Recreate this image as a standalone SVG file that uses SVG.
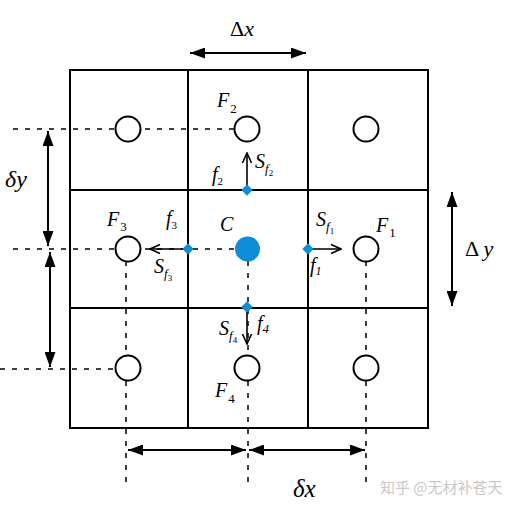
<svg xmlns="http://www.w3.org/2000/svg" width="518" height="511" viewBox="0 0 518 511" font-family="'Liberation Serif', 'Times New Roman', serif">
<style>
.grid{fill:none;stroke:#000;stroke-width:2}
.cell{fill:#fff;stroke:#000;stroke-width:2}
.dash{fill:none;stroke:#000;stroke-width:1.5;stroke-dasharray:5,7}
.dim{fill:none;stroke:#000;stroke-width:2}
.flux{fill:none;stroke:#000;stroke-width:1.6}
.dia{fill:#0e8ed4}
text, tspan{font-family:'Liberation Serif','Times New Roman',serif}
text{fill:#000}
.v{font-style:italic;font-size:20px}
.s{font-style:italic;font-size:13px}
text.wm{font-family:'Noto Sans CJK SC','Liberation Sans',sans-serif;font-size:15px;fill:#c8c8c8;font-style:normal}
</style>
<defs>
<marker id="tri" markerUnits="userSpaceOnUse" markerWidth="15" markerHeight="11" refX="15" refY="5.5" orient="auto-start-reverse">
<path d="M0,0 L15,5.5 L0,11 z" fill="#000"/>
</marker>
<marker id="open" markerUnits="userSpaceOnUse" markerWidth="12" markerHeight="12" refX="11" refY="6" orient="auto">
<path d="M1,1.5 L11,6 L1,10.5" fill="none" stroke="#000" stroke-width="1.6"/>
</marker>
</defs>
<rect width="518" height="511" fill="#fff"/>
<g id="grid">
<rect class="grid" x="70" y="70" width="358" height="358"/>
<line class="grid" x1="188" y1="70" x2="188" y2="428"/>
<line class="grid" x1="308" y1="70" x2="308" y2="428"/>
<line class="grid" x1="70" y1="190" x2="428" y2="190"/>
<line class="grid" x1="70" y1="308" x2="428" y2="308"/>
</g>
<g id="connectors">
<line class="dash" x1="13" y1="129" x2="247" y2="129"/>
<line class="dash" x1="13" y1="249" x2="247" y2="249"/>
<line class="dash" x1="0" y1="369" x2="128" y2="369"/>
<line class="dash" x1="126" y1="249" x2="126" y2="486"/>
<line class="dash" x1="248" y1="249" x2="248" y2="486"/>
<line class="dash" x1="366" y1="249" x2="366" y2="486"/>
<line class="dim" x1="190" y1="53" x2="306" y2="53" marker-start="url(#tri)" marker-end="url(#tri)"/>
<line class="dim" x1="48" y1="131" x2="48" y2="246" marker-start="url(#tri)" marker-end="url(#tri)"/>
<line class="dim" x1="50" y1="252" x2="50" y2="367" marker-start="url(#tri)" marker-end="url(#tri)"/>
<line class="dim" x1="452" y1="192" x2="452" y2="306" marker-start="url(#tri)" marker-end="url(#tri)"/>
<line class="dim" x1="128" y1="450" x2="246" y2="450" marker-start="url(#tri)" marker-end="url(#tri)"/>
<line class="dim" x1="249" y1="450" x2="365" y2="450" marker-start="url(#tri)" marker-end="url(#tri)"/>
<line class="flux" x1="247" y1="190" x2="247" y2="153" marker-end="url(#open)"/>
<line class="flux" x1="188" y1="249" x2="150" y2="249" marker-end="url(#open)"/>
<line class="flux" x1="308" y1="249" x2="341" y2="249" marker-end="url(#open)"/>
<line class="flux" x1="247" y1="307" x2="247" y2="344" marker-end="url(#open)"/>
</g>
<g id="cells">
<circle class="cell" cx="128" cy="129" r="12.5"/>
<circle class="cell" cx="247" cy="129" r="12.5"/>
<circle class="cell" cx="366" cy="129" r="12.5"/>
<circle class="cell" cx="128" cy="249" r="12.5"/>
<circle class="cell" cx="366" cy="249" r="12.5"/>
<circle class="cell" cx="128" cy="368" r="12.5"/>
<circle class="cell" cx="247" cy="368" r="12.5"/>
<circle class="cell" cx="366" cy="368" r="12.5"/>
</g>
<g id="C">
<circle cx="247.5" cy="249" r="12.5" fill="#0e8ed4"/>
<text class="v" x="220" y="231">C</text>
</g>
<g id="faces">
<rect class="dia" x="-4" y="-4" width="8" height="8" transform="translate(247,190) rotate(45)"/>
<rect class="dia" x="-4" y="-4" width="8" height="8" transform="translate(188,249) rotate(45)"/>
<rect class="dia" x="-4" y="-4" width="8" height="8" transform="translate(308,249) rotate(45)"/>
<rect class="dia" x="-4" y="-4" width="8" height="8" transform="translate(247,307) rotate(45)"/>
</g>
<g id="labels">
<text class="v" x="217" y="107">F<tspan font-size="13" font-style="normal" dx="1" dy="6">2</tspan></text>
<text class="v" x="255" y="168">S<tspan class="s" dy="5">f</tspan><tspan font-size="9" font-style="normal" dy="3">2</tspan></text>
<text class="v" x="212" y="181" font-size="17">f<tspan font-size="11" font-style="normal" dy="4">2</tspan></text>
<text class="v" x="107" y="226">F<tspan font-size="13" font-style="normal" dx="1" dy="5">3</tspan></text>
<text class="v" x="166" y="225" font-size="17">f<tspan font-size="11" font-style="normal" dy="4">3</tspan></text>
<text class="v" x="316" y="226">S<tspan class="s" dy="5">f</tspan><tspan font-size="9" font-style="normal" dy="3">1</tspan></text>
<text class="v" x="376" y="232">F<tspan font-size="13" font-style="normal" dx="1" dy="5">1</tspan></text>
<text class="v" x="154" y="273">S<tspan class="s" dy="5">f</tspan><tspan font-size="9" font-style="normal" dy="3">3</tspan></text>
<text class="v" x="310" y="272" font-size="17">f<tspan font-size="12" dy="3">1</tspan></text>
<text class="v" x="219" y="335">S<tspan class="s" dy="5">f</tspan><tspan font-size="9" font-style="normal" dy="3">4</tspan></text>
<text class="v" x="257" y="330" font-size="17">f<tspan font-size="13" dy="3">4</tspan></text>
<text class="v" x="215" y="397">F<tspan font-size="13" font-style="normal" dx="1" dy="6">4</tspan></text>
<text x="230" y="36" font-size="22">Δ<tspan font-style="italic">x</tspan></text>
<text x="5" y="187" font-size="24" font-style="italic">δy</text>
<text x="465" y="256" font-size="22">Δ <tspan font-style="italic">y</tspan></text>
<text x="293" y="497" font-size="25" font-style="italic">δx</text>
<text class="wm" x="380" y="493">知乎 @无材补苍天</text>
</g>
</svg>
